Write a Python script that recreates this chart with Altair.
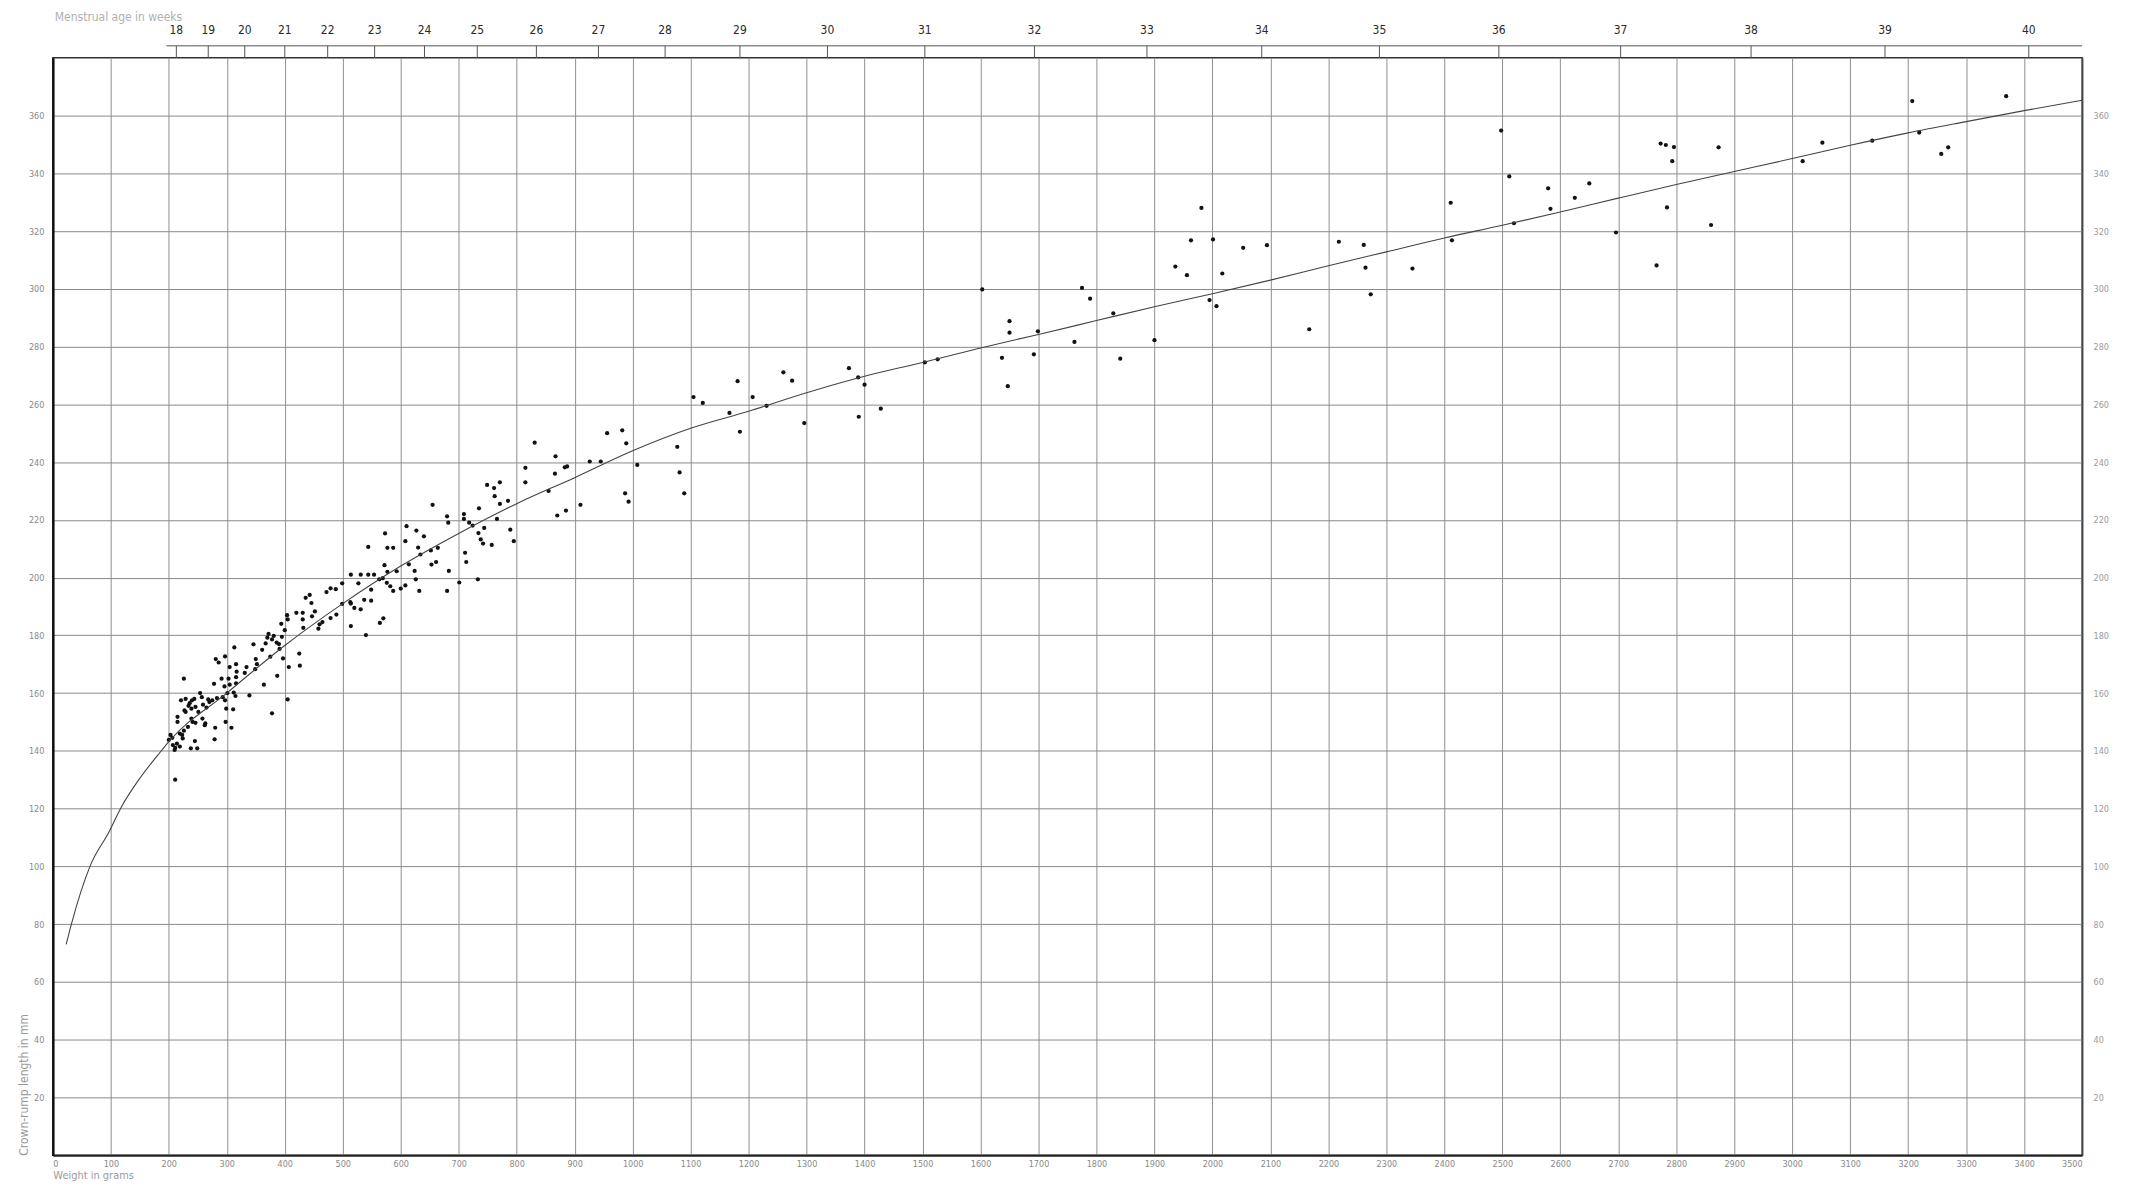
import altair as alt
import pandas as pd

# ---- data ------------------------------------------------------------------
# scatter points (weight in g, crown-rump length in mm), grouped by region
pts_lowest = [
    (544, 210.6), (554, 201), (544, 201), (531, 201), (514, 201), (527, 198), (499, 198),
    (479, 196.3), (472, 195), (549, 195.8), (537, 192.3), (549, 192), (514, 191), (520, 189.5),
    (531, 189), (499, 190.9), (489, 187.2), (479, 186), (465, 184.6), (460, 183.8), (458, 182.3),
    (447, 186.6), (452, 188.3), (446, 191.2), (443, 194), (436, 193), (431, 187.8), (431, 185.5),
    (432, 182.6), (420, 187.8), (404, 187), (394, 184), (400, 181.8), (395, 179.5), (390, 177),
    (386, 177.5), (381, 179.8), (378, 178.6), (370, 179.2), (367, 177.2), (361, 175), (375, 172.6),
    (391, 175.3), (397, 172), (425, 173.7), (426, 169.5), (407, 169), (387, 166), (364, 162.9),
    (405, 157.8), (378, 153), (350, 171.8), (349, 168.3), (346, 176.9), (334, 169), (331, 167),
    (313, 175.8), (297, 172.7), (281, 171.8), (286, 170.6), (305, 169), (316, 170), (317, 167.4),
    (316, 165.5), (303, 165), (291, 165), (305, 162.9), (316, 163.4), (278, 163.2), (296, 162.3),
    (301, 160), (293, 158.6), (297, 157.5), (315, 159), (339, 159.2), (275, 157.5), (270, 156.9),
    (254, 160), (257, 158.6), (244, 158), (240, 157.5), (229, 158), (221, 157.5), (227, 154),
    (234, 155.6), (239, 154.6), (246, 155.2), (251, 153.5), (258, 151.2), (262, 148.9), (259, 156),
    (265, 155), (246, 149.7), (241, 150), (233, 148.3), (239, 151.2), (229, 153.5), (215, 151.8),
    (215, 150), (226, 165), (280, 148), (298, 150), (308, 148), (299, 154.6), (311, 154.4),
    (279, 144), (245, 143.4), (238, 140.9), (249, 140.9), (223, 145.5), (224, 144.3), (219, 146),
    (203, 145.5), (200, 143.8), (207, 142), (211, 141), (219, 141.5), (210, 140.3), (211, 130),
    (514, 183.2), (540, 180.1), (206, 144.5), (214, 142.5), (236, 156.5), (268, 157.8),
    (283, 158.3), (312, 160.2), (263, 149.5), (226, 147), (352, 170), (405, 185.5), (372, 180.5),
    (488, 196), (513, 191.5),
]
pts_middle = [
    (1181, 268), (1105, 262.5), (1121, 260.5), (1207, 262.5), (1167, 257), (1231, 259.5),
    (1185, 250.5), (956, 250), (982, 251), (989, 246.5), (1077, 245.3), (1081, 236.4),
    (1089, 229.2), (1008, 239), (945, 240.2), (926, 240.2), (883, 238.2), (887, 238.5),
    (867, 242), (866, 236), (831, 246.7), (815, 238), (815, 233), (855, 230), (910, 225.2),
    (885, 223.2), (870, 221.5), (987, 229.2), (993, 226.3), (749, 232.1), (761, 231), (771, 233),
    (762, 228.2), (771, 225.5), (785, 226.6), (766, 220.3), (735, 224), (709, 222), (709, 220.3),
    (718, 219), (724, 218), (744, 217.2), (734, 215.4), (738, 213.2), (742, 211.8), (757, 211.3),
    (789, 216.6), (795, 212.6), (680, 221.2), (682, 219), (655, 225.2), (610, 217.8), (608, 212.6),
    (627, 216.3), (640, 214.3), (573, 215.3), (577, 210.3), (587, 210.3), (630, 210.4), (634, 208),
    (652, 209.4), (664, 210.3), (661, 205.4), (653, 204.5), (614, 204.6), (572, 204.3),
    (624, 202.3), (626, 199.4), (593, 202.2), (577, 202), (569, 199.8), (563, 199.4), (576, 198.2),
    (582, 197), (587, 195.4), (600, 196.2), (608, 197.3), (632, 195.4), (680, 195.4), (683, 202.3),
    (701, 198.3), (711, 208.6), (713, 205.4), (733, 199.4), (570, 185.9), (564, 184.3),
]
pts_upper = [
    (1260, 271.1), (1275, 268.2), (1296, 253.5), (1373, 272.5), (1389, 269.3), (1400, 266.8),
    (1390, 255.7), (1428, 258.5), (1504, 274.5), (1526, 275.6), (1603, 299.8), (1650, 288.8),
    (1650, 284.8), (1637, 276.1), (1647, 266.3), (1692, 277.3), (1699, 285.3), (1762, 281.6),
    (1775, 300.3), (1789, 296.6), (1829, 291.5), (1841, 275.8), (1900, 282.2),
]
pts_high = [
    (1981, 328), (1963, 316.8), (2001, 317.1), (1936, 307.7), (1956, 304.7), (2017, 305.3),
    (2053, 314.2), (2094, 315.1), (1995, 296.1), (2007, 294), (2167, 286), (2218, 316.3),
    (2261, 315.2), (2264, 307.3), (2273, 298.1), (2345, 307), (2411, 329.8), (2413, 316.8),
    (2498, 354.8), (2512, 338.9), (2520, 322.7), (2579, 334.8), (2583, 327.7), (2625, 331.5),
    (2650, 336.5), (2696, 319.5),
]
pts_top = [
    (2773, 350.3), (2782, 349.8), (2796, 349.1), (2793, 344.2), (2873, 349), (2784, 328.2),
    (2860, 322.1), (2766, 308.1), (3018, 344.2), (3052, 350.6), (3207, 365), (3257, 346.7),
    (3269, 349), (3369, 366.7), (3138, 351.3), (3219, 354.1),
]

# fitted curve
curve_g = [23, 32, 64, 97, 118, 150, 181, 200, 300, 400, 500, 600, 700, 800, 900, 1000,
           1100, 1200, 1300, 1400, 1500, 1600, 1700, 1800, 1900, 2000, 2100, 2200, 2300,
           2400, 2500, 2600, 2700, 2800, 2900, 3000, 3100, 3200, 3300, 3400, 3500]
curve_mm = [73, 80, 100, 112, 120.5, 130.5, 138.5, 143.2, 160, 176.5, 191, 204, 215.3, 225.6,
            234.6, 243.9, 251.7, 257.6, 264, 269.7, 274.5, 279.5, 284.2, 289, 293.8, 298.3,
            303, 308, 312.8, 317.6, 322, 326.6, 331.4, 336.1, 340.6, 345.1, 349.7, 354,
            357.9, 361.7, 365.3]

# menstrual-age scale along the top (week -> weight position in g)
week_labels = [18, 19, 20, 21, 22, 23, 24, 25, 26, 27, 28, 29, 30, 31, 32, 33, 34, 35,
               36, 37, 38, 39, 40]
week_pos_g = [213, 268, 331, 400, 474, 555, 641, 732, 834, 941, 1056, 1185, 1336, 1504,
              1693, 1887, 2085, 2288, 2494, 2704, 2929, 3160, 3408]
top_axis_start_g = 196

x_ticks = list(range(0, 3600, 100))
y_ticks = list(range(20, 380, 20))

# ---- tables ----------------------------------------------------------------
all_pts = pts_lowest + pts_middle + pts_upper + pts_high + pts_top
pts_df = pd.DataFrame(all_pts, columns=["weight", "crl"])
curve_df = pd.DataFrame({"weight": curve_g, "crl": curve_mm})
weeks_df = pd.DataFrame({"week": [str(w) for w in week_labels], "weight": week_pos_g})
topline_df = pd.DataFrame({"a": [top_axis_start_g], "b": [3500]})
title_df = pd.DataFrame({"t": ["Menstrual age in weeks"]})

FONT = "Liberation Sans Narrow, DejaVu Sans Condensed, Liberation Sans, sans-serif"
W, H = 2036, 1101

xscale = alt.Scale(domain=[0, 3500], nice=False, zero=False)
yscale = alt.Scale(domain=[0, 380], nice=False, zero=False)

points = alt.Chart(pts_df).mark_circle(size=18, color="#111111", opacity=1).encode(
    x=alt.X("weight:Q", scale=xscale, axis=alt.Axis(
        values=x_ticks, format="d", grid=True, ticks=False, labelFontSize=9,
        labelColor="#8a8a8a", labelFont=FONT, labelPadding=4, domainColor="#222222",
        domainWidth=2, gridColor="#8f8f8f", gridWidth=1,
        title="Weight in grams", titleFont=FONT, titleFontSize=11, titleFontWeight="normal",
        titleColor="#9a9a9a", titleX=0, titleY=20, titleAlign="left", titleAnchor="start",
        titleBaseline="middle")),
    y=alt.Y("crl:Q", scale=yscale, axis=alt.Axis(
        values=y_ticks, format="d", grid=True, ticks=False, labelFontSize=9,
        labelColor="#8a8a8a", labelFont=FONT, labelPadding=9, domainColor="#111111",
        domainWidth=2.5, gridColor="#8a8a8a", gridWidth=1,
        title="Crown-rump length in mm", titleFont=FONT, titleFontSize=12,
        titleFontWeight="normal", titleColor="#9a9a9a", titleAngle=270, titleX=-29,
        titleY=H, titleAlign="left", titleBaseline="middle")),
)

curve = alt.Chart(curve_df).mark_line(color="#444444", strokeWidth=1.1,
                                      interpolate="monotone").encode(
    x=alt.X("weight:Q", scale=xscale, axis=None),
    y=alt.Y("crl:Q", scale=yscale, axis=alt.Axis(
        values=y_ticks, format="d", grid=False, ticks=False, labelFontSize=9,
        labelColor="#9a9a9a", labelFont=FONT, labelPadding=11, domainColor="#444444",
        domainWidth=1.5, orient="right", title="")),
)

week_ticks = alt.Chart(weeks_df).mark_rule(color="#555555", strokeWidth=1).encode(
    x=alt.X("weight:Q", scale=xscale, axis=None),
    y=alt.value(-12), y2=alt.value(0),
)
week_text = alt.Chart(weeks_df).mark_text(
    fontSize=12, font=FONT, color="#2a2a2a", baseline="middle", align="center"
).encode(
    x=alt.X("weight:Q", scale=xscale, axis=None),
    y=alt.value(-28), text="week:N",
)
top_line = alt.Chart(topline_df).mark_rule(color="#555555", strokeWidth=1).encode(
    x=alt.X("a:Q", scale=xscale, axis=None), x2="b:Q", y=alt.value(-12),
)
top_title = alt.Chart(title_df).mark_text(
    fontSize=12, font=FONT, color="#b0b0b0", align="left", baseline="middle"
).encode(x=alt.value(2), y=alt.value(-41), text="t:N")

chart = alt.layer(points, curve, week_ticks, top_line, week_text, top_title).resolve_axis(
    x="independent", y="independent"
).properties(
    width=W, height=H,
    autosize=alt.AutoSizeParams(type="none"),
    padding={"left": 45, "top": 48, "right": 40, "bottom": 30},
    background="white",
).configure_view(stroke="#333333", strokeWidth=1.5)

chart.save("out.html", embed_options={"renderer": "svg", "actions": False})
